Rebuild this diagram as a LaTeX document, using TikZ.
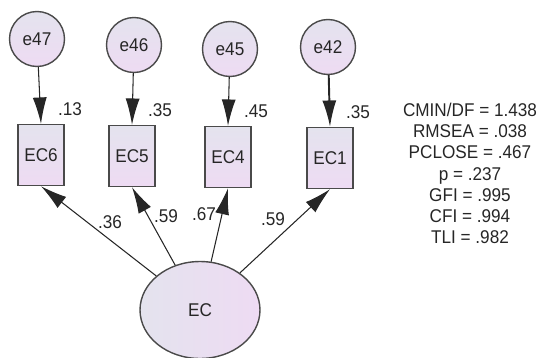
\documentclass[tikz,border=0pt]{standalone}
\usepackage{fontspec}
\setmainfont{Liberation Sans}[FakeStretch=0.93]
\usetikzlibrary{shapes.geometric,arrows.meta}
\definecolor{lavleft}{HTML}{E4E3EE}
\definecolor{lavright}{HTML}{EEDBF3}
\definecolor{edgegrey}{HTML}{4A4A4A}
\definecolor{txtgrey}{HTML}{262626}

\begin{document}
\begin{tikzpicture}[x=0.02cm, y=-0.02cm, font=\fontsize{10.5}{12.1}\selectfont, text=txtgrey,
  errvar/.style={circle, draw=edgegrey, line width=0.8pt, minimum size=1.1cm, inner sep=0pt, top color=lavleft, bottom color=lavright},
  obsvar/.style={rectangle, draw=edgegrey, line width=0.8pt, minimum width=0.92cm, minimum height=1.22cm, inner sep=0pt, top color=lavleft, bottom color=lavright},
  latvar/.style={ellipse, draw=edgegrey, line width=0.8pt, minimum width=2.4cm, minimum height=1.94cm, inner sep=0pt, left color=lavleft, right color=lavright},
  regarrow/.style={-{Latex[length=15pt,width=8pt]}, line width=0.6pt, draw=black!85}]
\useasboundingbox (0,0) rectangle (544,358);

% Error terms
\node[errvar] (e47) at (37,39) {e47};
\node[errvar] (e46) at (134,45) {e46};
\node[errvar] (e45) at (230,49) {e45};
\node[errvar] (e42) at (328,47) {e42};

% Observed indicators
\node[obsvar] (ec6) at (41,155) {EC6};
\node[obsvar] (ec5) at (132,156) {EC5};
\node[obsvar] (ec4) at (228,157) {EC4};
\node[obsvar] (ec1) at (330,158) {EC1};

% Latent factor
\node[latvar] (ec) at (200,310) {EC};

% Error paths
\draw[regarrow] (e47) -- (ec6.north);
\draw[regarrow] (e46) -- (ec5.north);
\draw[regarrow] (e45) -- (ec4.north);
\draw[regarrow, line width=1.1pt] (e42) -- (ec1.north);

% Loadings
\draw[regarrow] (ec) -- (ec6.south);
\draw[regarrow] (ec) -- (ec5.south);
\draw[regarrow] (ec) -- (ec4.south);
\draw[regarrow] (ec) -- (ec1.south);

% Squared multiple correlations
\node (r6) at (70,109) {.13};
\node (r5) at (160,110) {.35};
\node (r4) at (256,111) {.45};
\node (r1) at (358,112) {.35};

% Standardized weights
\node (w6) at (110,222) {.36};
\node (w5) at (166,216) {.59};
\node (w4) at (204,214) {.67};
\node (w1) at (273,219) {.59};

% Fit indices
\node[align=center] (fit) at (470,173.5) {CMIN/DF = 1.438\\RMSEA = .038\\PCLOSE = .467\\p = .237\\GFI = .995\\CFI = .994\\TLI = .982};

\end{tikzpicture}
\end{document}
